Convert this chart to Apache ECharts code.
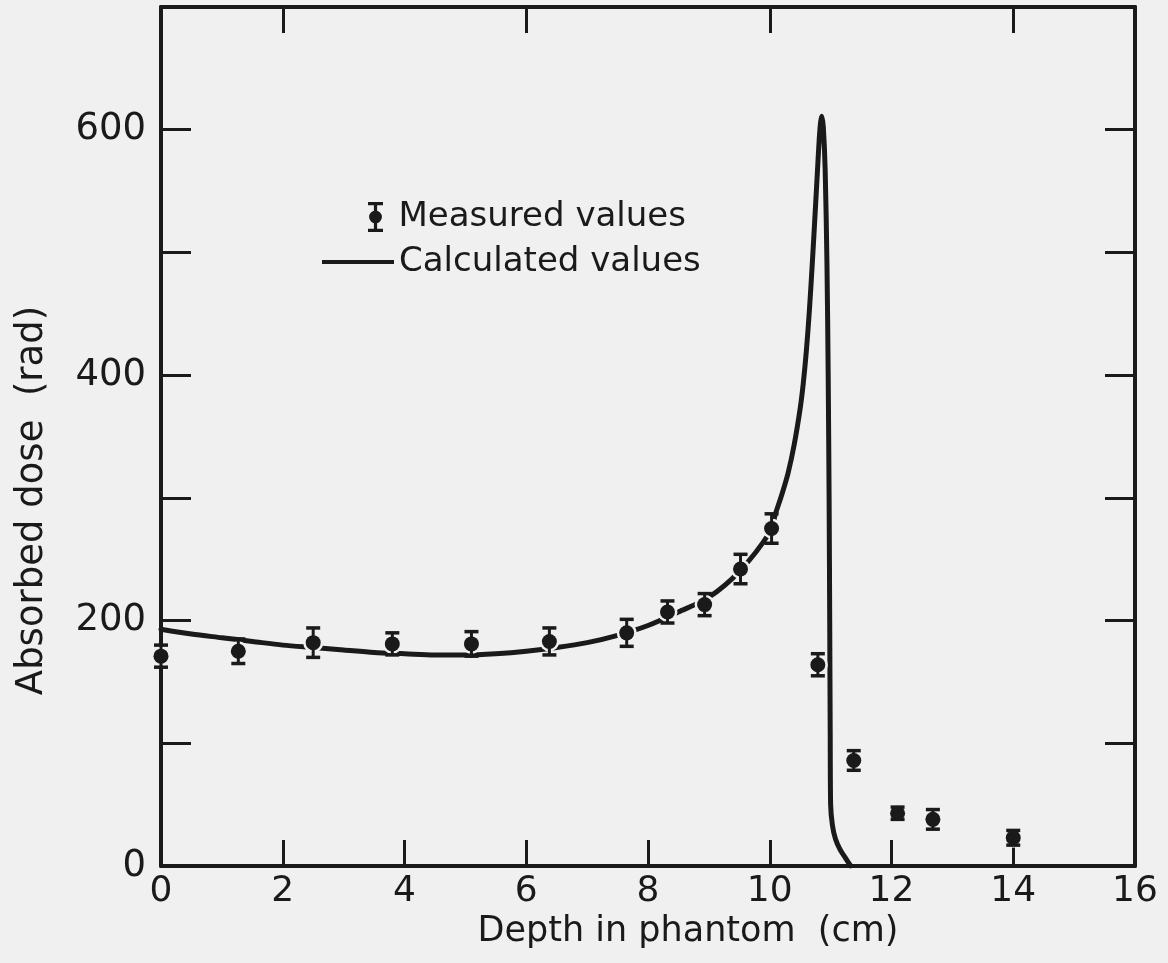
<!DOCTYPE html>
<html>
<head>
<meta charset="utf-8">
<script src="https://cdn.jsdelivr.net/npm/echarts@6/dist/echarts.min.js"></script>
<style>
  html, body { margin: 0; padding: 0; background: #f0f0f0; }
  #main { width: 1168px; height: 963px; }
</style>
</head>
<body>
<div id="main"></div>
<script>
// measured points (depth cm, dose rad, error bar half height)
var depth = [0, 1.27, 2.5, 3.8, 5.1, 6.38, 7.65, 8.32, 8.93, 9.52, 10.03, 10.79, 11.38, 12.1, 12.68, 14.0];
var dose = [171, 175, 182, 181, 181, 183, 190, 207, 213, 242, 275, 164, 86, 43, 38, 23];
var doseErr = [9, 10, 12, 9, 10, 11, 11, 9, 9, 12, 12, 9, 8, 5, 8, 6];

// calculated curve
var calcDepth = [0, 0.5, 1, 1.5, 2, 2.5, 3, 3.5, 4, 4.5, 5, 5.5, 6, 6.5, 7, 7.5, 8, 8.5, 9, 9.5, 10, 10.1, 10.2, 10.3, 10.4, 10.5, 10.55, 10.6, 10.65, 10.7, 10.75, 10.78, 10.81, 10.835, 10.855, 10.88, 10.91, 10.94, 10.96, 10.975, 10.985, 10.993, 11.0, 11.03, 11.08, 11.15, 11.25, 11.33];
var calcDose = [193, 189, 186, 183, 180, 178, 176, 174, 173, 172, 172, 173, 175, 178, 182, 188, 196, 207, 219, 240, 272, 288, 303, 320, 343, 373, 393, 419, 452, 492, 536, 563, 590, 606, 611, 602, 568, 490, 400, 300, 200, 110, 50, 33, 22, 14, 6, 0];

var xTicks = [0, 2, 4, 6, 8, 10, 12, 14, 16];
var yTicks = [0, 200, 400, 600];
var topTicks = [2, 6, 10, 14];

var ink = '#1a1a1a';
var paper = '#f0f0f0';
var font = 'DejaVu Sans';

var measured = depth.map(function (d, i) { return [d, dose[i], doseErr[i]]; });
var calculated = calcDepth.map(function (d, i) { return [d, calcDose[i]]; });

var errIcon = 'path://M0 0H14V3H0Z M0 25H14V28H0Z M5.5 0H8.5V28H5.5Z M1 14A6 6 0 1 1 13 14A6 6 0 1 1 1 14Z';

var chart = echarts.init(document.getElementById('main'));

var option = {
  backgroundColor: paper,
  animation: false,
  grid: { left: 161, right: 33, top: 7, bottom: 97 },
  legend: [
    {
      data: [{ name: 'Measured values', icon: errIcon }],
      left: 368, top: 200, padding: 0,
      itemWidth: 36, itemHeight: 30,
      textStyle: { fontFamily: font, fontSize: 34, color: ink, lineHeight: 34 }
    },
    {
      data: [{ name: 'Calculated values', icon: 'rect' }],
      left: 322, top: 245, padding: 0,
      itemWidth: 72, itemHeight: 4,
      textStyle: { fontFamily: font, fontSize: 34, color: ink, lineHeight: 34 }
    }
  ],
  xAxis: [
    {
      type: 'value', min: 0, max: 16, interval: 2, position: 'bottom',
      name: 'Depth in phantom  (cm)', nameLocation: 'middle', nameGap: 40,
      nameTextStyle: { fontFamily: font, fontSize: 35, color: ink, padding: [0, 0, 0, 80] },
      axisLine: { onZero: false, lineStyle: { color: ink, width: 4 } },
      axisTick: { inside: true, length: 26, lineStyle: { color: ink, width: 3 } },
      axisLabel: {
        fontFamily: font, fontSize: 36, color: ink, margin: 8,
        customValues: xTicks
      },
      splitLine: { show: false }
    },
    {
      type: 'value', min: 0, max: 16, position: 'top',
      axisLine: { onZero: false, lineStyle: { color: ink, width: 4 } },
      axisTick: { inside: true, length: 26, customValues: topTicks, lineStyle: { color: ink, width: 3 } },
      axisLabel: { show: false },
      splitLine: { show: false }
    }
  ],
  yAxis: [
    {
      type: 'value', min: 0, max: 700, interval: 100, position: 'left',
      name: 'Absorbed dose  (rad)', nameLocation: 'middle', nameGap: 110,
      nameTextStyle: { fontFamily: font, fontSize: 37, color: ink, padding: [0, 128, 0, 0] },
      axisLine: { show: true, onZero: false, lineStyle: { color: ink, width: 4 } },
      axisTick: { show: true, inside: true, length: 30, lineStyle: { color: ink, width: 3 } },
      axisLabel: {
        fontFamily: font, fontSize: 37, color: ink, margin: 15,
        customValues: yTicks
      },
      splitLine: { show: false }
    },
    {
      type: 'value', min: 0, max: 700, interval: 100, position: 'right',
      axisLine: { show: true, onZero: false, lineStyle: { color: ink, width: 4 } },
      axisTick: { show: true, inside: true, length: 30, lineStyle: { color: ink, width: 3 } },
      axisLabel: { show: false },
      splitLine: { show: false }
    }
  ],
  series: [
    {
      name: 'Calculated values',
      type: 'line',
      data: calculated,
      showSymbol: false,
      smooth: 0.3,
      itemStyle: { color: ink },
      lineStyle: { color: ink, width: 5, join: 'round', cap: 'round' },
      z: 2
    },
    {
      name: 'Measured values',
      type: 'custom',
      data: measured,
      encode: { x: 0, y: 1 },
      itemStyle: { color: ink },
      z: 3,
      renderItem: function (params, api) {
        var c = api.coord([api.value(0), api.value(1)]);
        var hi = api.coord([api.value(0), api.value(1) + api.value(2)]);
        var lo = api.coord([api.value(0), api.value(1) - api.value(2)]);
        var capW = 7;
        return {
          type: 'group',
          children: [
            { type: 'circle', shape: { cx: c[0], cy: c[1], r: 10 }, style: { fill: paper } },
            { type: 'line', shape: { x1: c[0], y1: hi[1], x2: c[0], y2: lo[1] }, style: { stroke: ink, lineWidth: 3 } },
            { type: 'line', shape: { x1: c[0] - capW, y1: hi[1], x2: c[0] + capW, y2: hi[1] }, style: { stroke: ink, lineWidth: 3.5 } },
            { type: 'line', shape: { x1: c[0] - capW, y1: lo[1], x2: c[0] + capW, y2: lo[1] }, style: { stroke: ink, lineWidth: 3.5 } },
            { type: 'circle', shape: { cx: c[0], cy: c[1], r: 7.5 }, style: { fill: ink } }
          ]
        };
      }
    }
  ]
};

chart.setOption(option);
</script>
</body>
</html>
